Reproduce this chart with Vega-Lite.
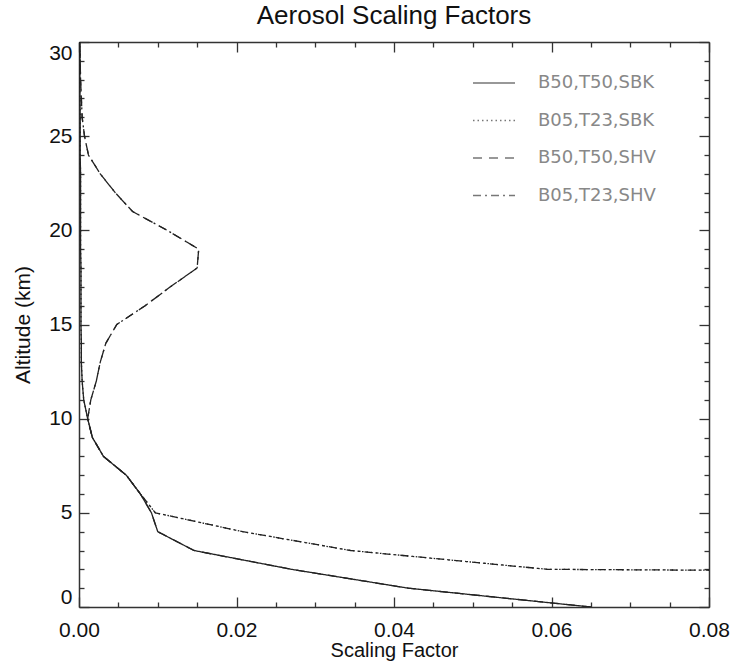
{
  "$schema": "https://vega.github.io/schema/vega-lite/v6.json",
  "width": 630,
  "height": 565,
  "autosize": {"type": "none"},
  "padding": {"left": 79, "top": 42, "right": 23, "bottom": 56},
  "background": "white",
  "title": {"text": "Aerosol Scaling Factors", "fontSize": 26, "font": "Liberation Sans", "fontWeight": "normal", "color": "#111", "baseline": "alphabetic", "offset": -9, "anchor": "middle", "frame": "group"},
  "config": {
    "view": {"stroke": null},
    "axis": {"minExtent": 0, "domainColor": "#333", "domainWidth": 1.5, "tickColor": "#333", "tickWidth": 1.3, "labelFont": "Liberation Sans", "labelFontSize": 21, "labelColor": "#111", "titleFont": "Liberation Sans", "titleFontSize": 21, "titleFontWeight": "normal", "titleColor": "#111", "grid": false}
  },
  "data": {"values": [
    {"series": "B50,T50,SBK", "alt": 0, "sf": 0.065}, {"series": "B50,T50,SBK", "alt": 1, "sf": 0.0418}, {"series": "B50,T50,SBK", "alt": 2, "sf": 0.027}, {"series": "B50,T50,SBK", "alt": 3, "sf": 0.0146}, {"series": "B50,T50,SBK", "alt": 4, "sf": 0.0100}, {"series": "B50,T50,SBK", "alt": 5, "sf": 0.0092}, {"series": "B50,T50,SBK", "alt": 6, "sf": 0.0078}, {"series": "B50,T50,SBK", "alt": 7, "sf": 0.0060}, {"series": "B50,T50,SBK", "alt": 8, "sf": 0.0031}, {"series": "B50,T50,SBK", "alt": 9, "sf": 0.0017}, {"series": "B50,T50,SBK", "alt": 10, "sf": 0.0011},
    {"series": "B50,T50,SBK", "alt": 11, "sf": 0.0006}, {"series": "B50,T50,SBK", "alt": 12, "sf": 0.0004}, {"series": "B50,T50,SBK", "alt": 13, "sf": 0.0003}, {"series": "B50,T50,SBK", "alt": 14, "sf": 0.0003}, {"series": "B50,T50,SBK", "alt": 15, "sf": 0.00025}, {"series": "B50,T50,SBK", "alt": 16, "sf": 0.00025}, {"series": "B50,T50,SBK", "alt": 17, "sf": 0.00025}, {"series": "B50,T50,SBK", "alt": 18, "sf": 0.00025}, {"series": "B50,T50,SBK", "alt": 19, "sf": 0.0002}, {"series": "B50,T50,SBK", "alt": 20, "sf": 0.0002}, {"series": "B50,T50,SBK", "alt": 21, "sf": 0.0002}, {"series": "B50,T50,SBK", "alt": 22, "sf": 0.0002}, {"series": "B50,T50,SBK", "alt": 23, "sf": 0.0002}, {"series": "B50,T50,SBK", "alt": 24, "sf": 0.00015}, {"series": "B50,T50,SBK", "alt": 25, "sf": 0.00015}, {"series": "B50,T50,SBK", "alt": 26, "sf": 0.00015}, {"series": "B50,T50,SBK", "alt": 27, "sf": 0.00012}, {"series": "B50,T50,SBK", "alt": 28, "sf": 0.0001}, {"series": "B50,T50,SBK", "alt": 29, "sf": 0.0001}, {"series": "B50,T50,SBK", "alt": 30, "sf": 0.0001},

    {"series": "B05,T23,SBK", "alt": 0, "sf": 0.7}, {"series": "B05,T23,SBK", "alt": 1, "sf": 0.5}, {"series": "B05,T23,SBK", "alt": 2, "sf": 0.0595}, {"series": "B05,T23,SBK", "alt": 3, "sf": 0.0345}, {"series": "B05,T23,SBK", "alt": 4, "sf": 0.0208}, {"series": "B05,T23,SBK", "alt": 5, "sf": 0.0097}, {"series": "B05,T23,SBK", "alt": 6, "sf": 0.0078}, {"series": "B05,T23,SBK", "alt": 7, "sf": 0.0060}, {"series": "B05,T23,SBK", "alt": 8, "sf": 0.0031}, {"series": "B05,T23,SBK", "alt": 9, "sf": 0.0017}, {"series": "B05,T23,SBK", "alt": 10, "sf": 0.0011},
    {"series": "B05,T23,SBK", "alt": 11, "sf": 0.0006}, {"series": "B05,T23,SBK", "alt": 12, "sf": 0.0004}, {"series": "B05,T23,SBK", "alt": 13, "sf": 0.0003}, {"series": "B05,T23,SBK", "alt": 14, "sf": 0.0003}, {"series": "B05,T23,SBK", "alt": 15, "sf": 0.00025}, {"series": "B05,T23,SBK", "alt": 16, "sf": 0.00025}, {"series": "B05,T23,SBK", "alt": 17, "sf": 0.00025}, {"series": "B05,T23,SBK", "alt": 18, "sf": 0.00025}, {"series": "B05,T23,SBK", "alt": 19, "sf": 0.0002}, {"series": "B05,T23,SBK", "alt": 20, "sf": 0.0002}, {"series": "B05,T23,SBK", "alt": 21, "sf": 0.0002}, {"series": "B05,T23,SBK", "alt": 22, "sf": 0.0002}, {"series": "B05,T23,SBK", "alt": 23, "sf": 0.0002}, {"series": "B05,T23,SBK", "alt": 24, "sf": 0.00015}, {"series": "B05,T23,SBK", "alt": 25, "sf": 0.00015}, {"series": "B05,T23,SBK", "alt": 26, "sf": 0.00015}, {"series": "B05,T23,SBK", "alt": 27, "sf": 0.00012}, {"series": "B05,T23,SBK", "alt": 28, "sf": 0.0001}, {"series": "B05,T23,SBK", "alt": 29, "sf": 0.0001}, {"series": "B05,T23,SBK", "alt": 30, "sf": 0.0001},

    {"series": "B50,T50,SHV", "alt": 0, "sf": 0.065}, {"series": "B50,T50,SHV", "alt": 1, "sf": 0.0418}, {"series": "B50,T50,SHV", "alt": 2, "sf": 0.027}, {"series": "B50,T50,SHV", "alt": 3, "sf": 0.0146}, {"series": "B50,T50,SHV", "alt": 4, "sf": 0.0100}, {"series": "B50,T50,SHV", "alt": 5, "sf": 0.0092}, {"series": "B50,T50,SHV", "alt": 6, "sf": 0.0078}, {"series": "B50,T50,SHV", "alt": 7, "sf": 0.0060}, {"series": "B50,T50,SHV", "alt": 8, "sf": 0.0031}, {"series": "B50,T50,SHV", "alt": 9, "sf": 0.0017}, {"series": "B50,T50,SHV", "alt": 10, "sf": 0.0011},
    {"series": "B50,T50,SHV", "alt": 11, "sf": 0.0015}, {"series": "B50,T50,SHV", "alt": 12, "sf": 0.0022}, {"series": "B50,T50,SHV", "alt": 13, "sf": 0.0027}, {"series": "B50,T50,SHV", "alt": 14, "sf": 0.0034}, {"series": "B50,T50,SHV", "alt": 15, "sf": 0.0048}, {"series": "B50,T50,SHV", "alt": 16, "sf": 0.0084}, {"series": "B50,T50,SHV", "alt": 17, "sf": 0.0116}, {"series": "B50,T50,SHV", "alt": 18, "sf": 0.0150}, {"series": "B50,T50,SHV", "alt": 19, "sf": 0.0152}, {"series": "B50,T50,SHV", "alt": 20, "sf": 0.0112}, {"series": "B50,T50,SHV", "alt": 21, "sf": 0.0068}, {"series": "B50,T50,SHV", "alt": 22, "sf": 0.0046}, {"series": "B50,T50,SHV", "alt": 23, "sf": 0.0027}, {"series": "B50,T50,SHV", "alt": 24, "sf": 0.0012}, {"series": "B50,T50,SHV", "alt": 25, "sf": 0.0007}, {"series": "B50,T50,SHV", "alt": 26, "sf": 0.0004}, {"series": "B50,T50,SHV", "alt": 27, "sf": 0.0003}, {"series": "B50,T50,SHV", "alt": 28, "sf": 0.0002}, {"series": "B50,T50,SHV", "alt": 29, "sf": 0.00015}, {"series": "B50,T50,SHV", "alt": 30, "sf": 0.0001},

    {"series": "B05,T23,SHV", "alt": 0, "sf": 0.7}, {"series": "B05,T23,SHV", "alt": 1, "sf": 0.5}, {"series": "B05,T23,SHV", "alt": 2, "sf": 0.0595}, {"series": "B05,T23,SHV", "alt": 3, "sf": 0.0345}, {"series": "B05,T23,SHV", "alt": 4, "sf": 0.0208}, {"series": "B05,T23,SHV", "alt": 5, "sf": 0.0097}, {"series": "B05,T23,SHV", "alt": 6, "sf": 0.0078}, {"series": "B05,T23,SHV", "alt": 7, "sf": 0.0060}, {"series": "B05,T23,SHV", "alt": 8, "sf": 0.0031}, {"series": "B05,T23,SHV", "alt": 9, "sf": 0.0017}, {"series": "B05,T23,SHV", "alt": 10, "sf": 0.0011},
    {"series": "B05,T23,SHV", "alt": 11, "sf": 0.0015}, {"series": "B05,T23,SHV", "alt": 12, "sf": 0.0022}, {"series": "B05,T23,SHV", "alt": 13, "sf": 0.0027}, {"series": "B05,T23,SHV", "alt": 14, "sf": 0.0034}, {"series": "B05,T23,SHV", "alt": 15, "sf": 0.0048}, {"series": "B05,T23,SHV", "alt": 16, "sf": 0.0084}, {"series": "B05,T23,SHV", "alt": 17, "sf": 0.0116}, {"series": "B05,T23,SHV", "alt": 18, "sf": 0.0150}, {"series": "B05,T23,SHV", "alt": 19, "sf": 0.0152}, {"series": "B05,T23,SHV", "alt": 20, "sf": 0.0112}, {"series": "B05,T23,SHV", "alt": 21, "sf": 0.0068}, {"series": "B05,T23,SHV", "alt": 22, "sf": 0.0046}, {"series": "B05,T23,SHV", "alt": 23, "sf": 0.0027}, {"series": "B05,T23,SHV", "alt": 24, "sf": 0.0012}, {"series": "B05,T23,SHV", "alt": 25, "sf": 0.0007}, {"series": "B05,T23,SHV", "alt": 26, "sf": 0.0004}, {"series": "B05,T23,SHV", "alt": 27, "sf": 0.0003}, {"series": "B05,T23,SHV", "alt": 28, "sf": 0.0002}, {"series": "B05,T23,SHV", "alt": 29, "sf": 0.00015}, {"series": "B05,T23,SHV", "alt": 30, "sf": 0.0001}
  ]},
  "layer": [
    {
      "mark": {"type": "line", "clip": true, "strokeWidth": 1.3, "color": "#222"},
      "encoding": {
        "x": {"field": "sf", "type": "quantitative", "scale": {"domain": [0, 0.08], "nice": false, "zero": false},
              "axis": {"orient": "bottom", "values": [0, 0.02, 0.04, 0.06, 0.08], "format": ".2f", "ticks": false, "labelFlush": false, "labelPadding": 12, "title": "Scaling Factor", "titleFontSize": 20, "titlePadding": 0}},
        "y": {"field": "alt", "type": "quantitative", "scale": {"domain": [0, 30], "nice": false, "zero": false},
              "axis": {"orient": "left", "values": [0, 5, 10, 15, 20, 25, 30], "ticks": false, "labelPadding": 7, "labelFlush": true, "title": "Altitude (km)", "titlePadding": 15}},
        "strokeDash": {"field": "series", "type": "nominal",
              "scale": {"domain": ["B50,T50,SBK", "B05,T23,SBK", "B50,T50,SHV", "B05,T23,SHV"], "range": [[1, 0], [1.5, 3], [9, 7], [8, 4, 2, 4]]},
              "legend": {"title": null, "orient": "none", "legendX": 393, "legendY": 19, "symbolType": "stroke", "symbolSize": 1764, "symbolStrokeWidth": 1.3, "symbolStrokeColor": "#777", "labelFont": "DejaVu Sans", "labelFontSize": 18, "labelColor": "#888", "labelOffset": 22, "rowPadding": 6.5, "padding": 0}},
        "order": {"field": "alt", "type": "quantitative"}
      }
    },
    {
      "mark": {"type": "point", "opacity": 0, "clip": true},
      "encoding": {
        "x": {"field": "sf", "type": "quantitative", "scale": {"domain": [0, 0.08], "nice": false, "zero": false},
              "axis": {"orient": "bottom", "values": [0, 0.02, 0.04, 0.06, 0.08], "labels": false, "domain": false, "tickSize": -10, "title": null}},
        "y": {"field": "alt", "type": "quantitative", "scale": {"domain": [0, 30], "nice": false, "zero": false},
              "axis": {"orient": "left", "values": [0, 5, 10, 15, 20, 25, 30], "labels": false, "domain": false, "tickSize": -10, "title": null}}
      }
    },
    {
      "mark": {"type": "point", "opacity": 0, "clip": true},
      "encoding": {
        "x": {"field": "sf", "type": "quantitative", "scale": {"domain": [0, 0.08], "nice": false, "zero": false},
              "axis": {"orient": "bottom", "values": [0.005, 0.01, 0.015, 0.025, 0.03, 0.035, 0.045, 0.05, 0.055, 0.065, 0.07, 0.075], "labels": false, "domain": false, "tickSize": -5, "title": null}},
        "y": {"field": "alt", "type": "quantitative", "scale": {"domain": [0, 30], "nice": false, "zero": false},
              "axis": {"orient": "left", "values": [1, 2, 3, 4, 6, 7, 8, 9, 11, 12, 13, 14, 16, 17, 18, 19, 21, 22, 23, 24, 26, 27, 28, 29], "labels": false, "domain": false, "tickSize": -5, "title": null}}
      }
    },
    {
      "mark": {"type": "point", "opacity": 0, "clip": true},
      "encoding": {
        "x": {"field": "sf", "type": "quantitative", "scale": {"domain": [0, 0.08], "nice": false, "zero": false},
              "axis": {"orient": "top", "values": [0, 0.02, 0.04, 0.06, 0.08], "labels": false, "domain": true, "tickSize": -10, "title": null}},
        "y": {"field": "alt", "type": "quantitative", "scale": {"domain": [0, 30], "nice": false, "zero": false},
              "axis": {"orient": "right", "values": [0, 5, 10, 15, 20, 25, 30], "labels": false, "domain": true, "tickSize": -10, "title": null}}
      }
    },
    {
      "mark": {"type": "point", "opacity": 0, "clip": true},
      "encoding": {
        "x": {"field": "sf", "type": "quantitative", "scale": {"domain": [0, 0.08], "nice": false, "zero": false},
              "axis": {"orient": "top", "values": [0.005, 0.01, 0.015, 0.025, 0.03, 0.035, 0.045, 0.05, 0.055, 0.065, 0.07, 0.075], "labels": false, "domain": false, "tickSize": -5, "title": null}},
        "y": {"field": "alt", "type": "quantitative", "scale": {"domain": [0, 30], "nice": false, "zero": false},
              "axis": {"orient": "right", "values": [1, 2, 3, 4, 6, 7, 8, 9, 11, 12, 13, 14, 16, 17, 18, 19, 21, 22, 23, 24, 26, 27, 28, 29], "labels": false, "domain": false, "tickSize": -5, "title": null}}
      }
    }
  ],
  "resolve": {"axis": {"x": "independent", "y": "independent"}}
}
